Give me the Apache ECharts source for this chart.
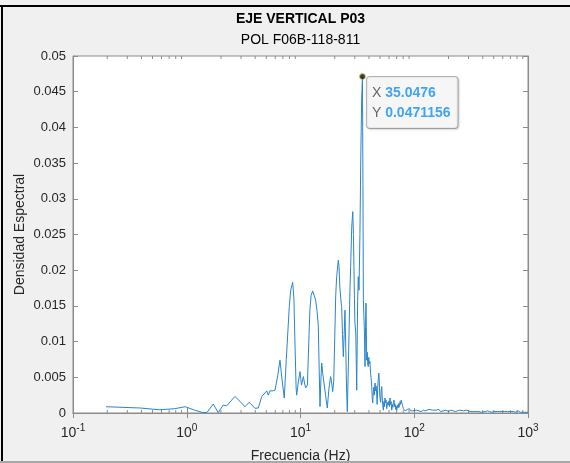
<!DOCTYPE html>
<html>
<head>
<meta charset="utf-8">
<script src="https://cdn.jsdelivr.net/npm/echarts@6/dist/echarts.min.js"></script>
<style>
html,body{margin:0;padding:0;background:#f0f0f0;}
#c{width:570px;height:463px;}
</style>
</head>
<body>
<div id="c"></div>
<script>
const chartTitle = 'EJE VERTICAL P03';
const chartSubtitle = 'POL F06B-118-811';
const xName = 'Frecuencia (Hz)';
const yName = 'Densidad Espectral';

const freq = [
0.195,0.39,0.58,0.78,0.97,1.17,1.36,1.5,1.71,1.89,2.09,2.24,2.45,2.65,2.95,3.25,3.54,3.98,4.26,4.56,4.87,5.05,5.21,5.39,5.7,5.97,
6.3,6.6,6.9,7.2,7.5,7.97,8.2,8.54,8.75,8.95,9.15,9.26,9.54,9.9,10.2,10.6,10.85,11.1,11.5,11.8,12.1,12.4,12.8,13.2,13.6,14.0,14.34,14.6,14.84,
15.1,15.36,15.7,16.1,16.6,17.2,17.8,18.4,18.8,19.2,19.6,20.0,20.4,20.8,21.1,21.5,21.8,22.2,22.6,23.0,23.4,23.8,24.2,24.6,25.0,25.4,25.8,
26.2,26.7,27.2,27.6,28.2,28.8,29.2,29.5,29.8,30.1,30.6,30.9,31.2,31.5,31.8,32.2,32.7,33.3,33.9,34.5,35.0476,35.4,35.7,36.1,36.5,36.9,37.3,37.65,
38.2,38.6,39.0,39.4,39.8,40.3,40.8,41.3,41.8,42.3,42.7,43.1,43.6,44.0,44.6,45.2,45.7,46.2,46.7,47.2,47.7,48.3,48.8,49.3,49.8,50.3,50.7,51.2,51.8,
52.3,52.9,53.5,54.1,54.7,55.3,55.9,56.5,57.2,57.9,58.6,59.3,60.0,60.6,61.2,61.9,62.6,63.4,64.1,64.9,65.6,66.4,67.2,68.0,68.8,69.5,70.2,71.0,71.9,
72.7,73.5,74.1,75.0,75.8,76.7,77.6,78.5,79.4,80.3,81.3,82.2,83.2,84.1,85.0,85.9,86.9,87.9,88.9,89.9,90.9,91.8,92.8,93.8,94.9,96.0,97.1,98.2,99.3,
100,105,110,115,120,125,130,135,140,145,150,155,160,165,170,175,180,185,190,195,200,210,220,230,240,250,260,270,280,290,300,310,320,330,340,350,
360,370,380,390,400,420,440,460,480,500,520,540,560,580,600,620,640,660,680,700,720,740,760,780,800,820,840,860,880,900,920,940,960,980,1000
];
const dens = [
0.00088,0.0007,0.00045,0.0006,0.00088,0.0004,0.0001,0.00004,0.00126,0.00004,0.00112,0.001,0.0017,0.00232,0.0016,0.00088,0.0015,0.00066,0.0007,0.0023,0.0028,0.0031,0.0025,0.0031,0.0031,0.0032,
0.0052,0.0074,0.0045,0.0021,0.0075,0.0149,0.0172,0.0183,0.016,0.0095,0.0035,0.0025,0.0042,0.0058,0.0039,0.0051,0.0042,0.0035,0.0039,0.0095,0.0145,0.0165,0.0171,0.0171,0.0158,0.0142,0.0122,0.006,0.0009,
0.0045,0.007,0.0055,0.0042,0.0025,0.0007,0.0035,0.0051,0.0042,0.003,0.0045,0.0105,0.0165,0.0191,0.0192,0.0214,0.0205,0.0175,0.016,0.0149,0.011,0.0079,0.011,0.0144,0.009,0.0035,0.0002,
0.005,0.0112,0.017,0.0205,0.026,0.0282,0.025,0.0205,0.016,0.0126,0.0112,0.0075,0.0032,0.0095,0.0158,0.0191,0.0172,0.025,0.036,0.044,0.0471156,0.032,0.0158,0.0135,0.0112,0.0065,0.012,0.0154,
0.0074,0.0085,0.0068,0.0065,0.0078,0.0069,0.0072,0.0055,0.0048,0.0037,0.0022,0.0014,0.0028,0.0036,0.0025,0.0042,0.0031,0.0038,0.0028,0.0012,0.0035,0.0048,0.0056,0.0045,0.0024,0.0018,0.0015,0.0032,0.0037,
0.0021,0.0011,0.0004,0.0016,0.0009,0.0021,0.0014,0.0018,0.0006,0.0007,0.0015,0.0011,0.0017,0.0009,0.0021,0.0012,0.0016,0.0004,0.0012,0.0008,0.0015,0.0018,0.0009,0.0012,0.0005,0.0009,0.0004,0.0011,0.0007,
0.0013,0.0008,0.0011,0.0016,0.0012,0.0018,0.0016,0.0012,0.0009,0.0006,0.0004,0.0006,0.0003,0.0005,0.0003,0.0002,0.0005,0.0003,0.0006,0.0004,0.0006,0.0007,0.0003,0.0005,0.0002,0.0004,0.0003,0.0002,0.0003,
0.0002,0.0004,0.0003,0.0002,0.0004,0.0003,0.0002,0.0005,0.0003,0.0004,0.0002,0.0004,0.0003,0.0005,0.0002,0.0004,0.0003,0.0002,0.0004,0.0003,0.0002,0.0004,0.0003,0.0002,0.0003,0.0004,0.0002,0.0003,0.0002,0.0004,0.0003,0.0002,0.0003,0.0002,0.0003,0.0002,
0.0003,0.0002,0.0003,0.0001,0.0003,0.0002,0.0003,0.0002,0.0001,0.0002,0.0003,0.0002,0.0001,0.0002,0.0003,0.0002,0.0001,0.0002,0.0003,0.0002,0.0001,0.0002,0.0002,0.0001,0.0002,0.0003,0.0002,0.0001,0.0002,0.0001,0.0002,0.0001,0.0002,0.0001,0.0001
];
const minorTickValues = [0.2,0.3,0.4,0.5,0.6,0.7,0.8,0.9,2,3,4,5,6,7,8,9,20,30,40,50,60,70,80,90,200,300,400,500,600,700,800,900];
const tipX = 35.0476;
const tipY = 0.0471156;

const lineData = freq.map((f, i) => [f, dens[i]]);
const font = 'Liberation Sans, Arial, Helvetica, sans-serif';
const axisColor = '#8c8c8c';
const textColor = '#262626';

const chart = echarts.init(document.getElementById('c'), null, {renderer: 'canvas'});

const xBase = {
  type: 'log', logBase: 10, min: 0.1, max: 1000,
  axisLine: {show: true, lineStyle: {color: axisColor, width: 1}},
  axisTick: {show: true, inside: true, length: 5, lineStyle: {color: axisColor}},
  splitLine: {show: false},
  minorTick: {show: false},
  minorSplitLine: {show: false}
};
const yBase = {
  type: 'value', min: 0, max: 0.05, interval: 0.005,
  axisLine: {show: true, lineStyle: {color: axisColor, width: 1}},
  axisTick: {show: true, inside: true, length: 5, lineStyle: {color: axisColor}},
  splitLine: {show: false}
};

chart.setOption({
  animation: false,
  backgroundColor: '#f0f0f0',
  grid: {left: 73, right: 42, top: 56, bottom: 50, show: true, backgroundColor: '#ffffff', borderColor: axisColor, borderWidth: 1, containLabel: false, outerBoundsMode: 'none'},
  xAxis: [
    Object.assign({}, xBase, {
      position: 'bottom',
      name: xName, nameLocation: 'middle', nameGap: 36, nameMoveOverlap: false,
      nameTextStyle: {fontFamily: font, fontSize: 14, color: textColor},
      axisLabel: {
        margin: 10,
        formatter: v => '{b|10}{s|' + Math.round(Math.log10(v)) + '}',
        rich: {
          b: {fontFamily: font, fontSize: 14, color: textColor, lineHeight: 17, verticalAlign: 'bottom'},
          s: {fontFamily: font, fontSize: 10, color: textColor, lineHeight: 17, verticalAlign: 'top'}
        }
      }
    }),
    Object.assign({}, xBase, {position: 'top', axisLabel: {show: false}})
  ],
  yAxis: [
    Object.assign({}, yBase, {
      position: 'left',
      name: yName, nameLocation: 'middle', nameGap: 46, nameMoveOverlap: false,
      nameTextStyle: {fontFamily: font, fontSize: 14, color: textColor},
      axisLabel: {margin: 7, fontFamily: font, fontSize: 13, color: textColor,
        formatter: v => String(+v.toFixed(4))}
    }),
    Object.assign({}, yBase, {position: 'right', axisLabel: {show: false}})
  ],
  graphic: [
    {type: 'rect', shape: {x: 0, y: 5, width: 570, height: 2}, style: {fill: '#000'}, z: 100},
    {type: 'rect', shape: {x: 1, y: 5, width: 2, height: 458}, style: {fill: '#000'}, z: 100},
    {type: 'rect', shape: {x: 0, y: 461, width: 570, height: 2}, style: {fill: '#a8a8a8'}, z: 100},
    {type: 'text', x: 300.5, y: 19, style: {text: chartTitle, font: 'bold 14px ' + font, fill: '#000', textAlign: 'center', textVerticalAlign: 'middle'}, z: 100},
    {type: 'text', x: 300.5, y: 40, style: {text: chartSubtitle, font: '14px ' + font, fill: '#000', textAlign: 'center', textVerticalAlign: 'middle'}, z: 100}
  ],
  series: [
    {
      type: 'custom', xAxisIndex: 0, yAxisIndex: 0, silent: true, clip: false, z: 3,
      data: minorTickValues.map(v => [v, 0]),
      renderItem: function (params, api) {
        const v = api.value(0);
        const b = api.coord([v, 0]);
        const t = api.coord([v, 0.05]);
        const st = {stroke: axisColor, lineWidth: 1};
        return {type: 'group', children: [
          {type: 'line', shape: {x1: b[0], y1: b[1], x2: b[0], y2: b[1] - 3}, style: st},
          {type: 'line', shape: {x1: t[0], y1: t[1], x2: t[0], y2: t[1] + 3}, style: st}
        ]};
      }
    },
    {
      type: 'line', xAxisIndex: 0, yAxisIndex: 0, data: lineData, showSymbol: false, symbol: 'none',
      lineStyle: {color: '#2a84cc', width: 1}, z: 4, silent: true
    },
    {
      type: 'scatter', xAxisIndex: 0, yAxisIndex: 0, data: [[tipX, tipY]], symbolSize: 6, z: 10,
      itemStyle: {color: '#111', borderColor: '#d8d060', borderWidth: 1},
      label: {
        show: true, position: [8, 4],
        formatter: p => '{k|X }{v|' + p.value[0] + '}\n{k|Y }{v|' + p.value[1] + '}',
        backgroundColor: '#fbfbfd', borderColor: '#a0a0a0', borderWidth: 1, borderRadius: 3,
        padding: [6, 7, 5, 5],
        shadowColor: 'rgba(0,0,0,0.15)', shadowBlur: 2, shadowOffsetX: 1, shadowOffsetY: 1,
        rich: {
          k: {fontFamily: font, fontSize: 14, color: '#404040', lineHeight: 20},
          v: {fontFamily: font, fontSize: 14, color: '#1290f5', fontWeight: 'bold', lineHeight: 20}
        }
      }
    }
  ]
});
</script>
</body>
</html>
